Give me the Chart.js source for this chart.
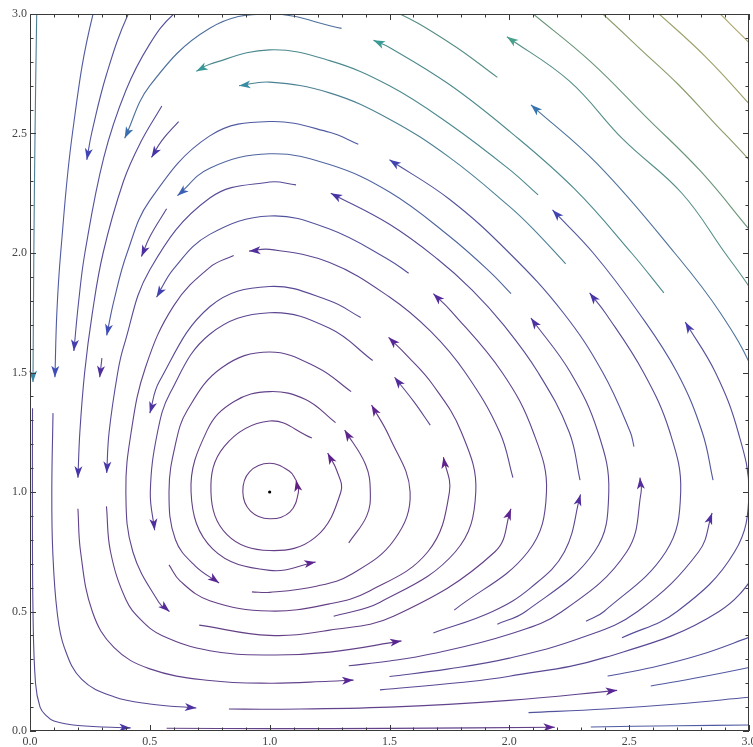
<!DOCTYPE html>
<html>
<head>
<meta charset="utf-8">
<script src="https://cdn.jsdelivr.net/npm/chart.js@4.4.1/dist/chart.umd.min.js"></script>
<style>
  html, body { margin: 0; padding: 0; background: #fff; }
</style>
</head>
<body>
<canvas id="chart" width="753" height="747"></canvas>
<script>
// streamlines, each one in flow direction (arrowhead at the last point)
const ring1 = [
  [[1.11,1.05],[1.085,1.085],[1,1.12],[0.916,1.084],[0.888,1],[0.92,0.92],[1,0.888],[1.084,0.916],[1.12,1],[1.11,1.05]]
];
const ring2 = [
  [[1.176,1.226],[1,1.297],[0.81,1.19],[0.755,1],[0.822,0.822],[1,0.755],[1.19,0.81],[1.297,1],[1.28,1.09],[1.242,1.163]]
];
const ring3 = [
  [[1.275,1.29],[1.15,1.387],[1,1.42],[0.85,1.378],[0.74,1.26],[0.672,1],[0.762,0.762],[1,0.672],[1.192,0.707]],
  [[1.33,0.787],[1.405,0.9],[1.42,1],[1.40,1.115],[1.313,1.259]]
];
const ring4 = [
  [[1.34,1.42],[1.2,1.52],[1,1.586],[0.8,1.52],[0.657,1.343],[0.607,1.2],[0.58,1],[0.607,0.8],[0.69,0.69],[0.789,0.619]],
  [[0.926,0.582],[1,0.58],[1.2,0.607],[1.343,0.657],[1.52,0.8],[1.586,1],[1.5,1.23],[1.425,1.364]]
];
const ring5 = [
  [[1.43,1.55],[1.25,1.685],[1,1.75],[0.75,1.66],[0.585,1.415],[0.532,1.25],[0.502,1],[0.52,0.84]],
  [[0.58,0.695],[0.627,0.627],[0.75,0.545],[1,0.502],[1.25,0.532],[1.415,0.585],[1.66,0.75],[1.75,1],[1.725,1.146]],
  [[1.67,1.28],[1.60,1.38],[1.521,1.48]]
];
const ring6 = [
  [[1.38,1.73],[1.25,1.80],[1,1.86],[0.75,1.775],[0.539,1.461],[0.50,1.33]],
  [[1.267,0.48],[1.461,0.539],[1.775,0.75],[1.86,1],[1.80,1.25],[1.68,1.45],[1.572,1.572],[1.496,1.647]]
];
const ring7 = [
  [[2.015,1.06],[1.96,1.25],[1.816,1.5],[1.672,1.672],[1.5,1.816],[1.25,1.96],[1,2.015],[0.914,2.008]],
  [[0.85,1.99],[0.75,1.94],[0.6,1.78],[0.481,1.519],[0.422,1.25],[0.40,1],[0.429,0.75],[0.538,0.538],[0.582,0.50]],
  [[0.706,0.443],[1,0.40],[1.25,0.422],[1.519,0.481],[1.94,0.75],[2.007,0.93]]
];
const ring8 = [
  [[1.58,1.915],[1.5,1.97],[1.25,2.10],[1,2.155],[0.75,2.078],[0.6,1.935],[0.528,1.815]],
  [[1.77,0.506],[2.078,0.75],[2.155,1],[2.10,1.25],[1.97,1.5],[1.757,1.757],[1.683,1.83]]
];
const ring9 = [
  [[1.11,2.285],[1,2.297],[0.75,2.23],[0.5,1.93],[0.391,1.609],[0.366,1.5],[0.33,1.25],[0.32,1.08]],
  [[0.319,0.94],[0.336,0.75],[0.40,0.55],[0.464,0.464],[0.55,0.40],[0.75,0.336],[1,0.318],[1.25,0.33],[1.55,0.377]],
  [[1.683,0.41],[1.93,0.5],[2.09,0.6],[2.23,0.75],[2.297,0.99]],
  [[2.295,1.05],[2.25,1.25],[2.12,1.5],[1.975,1.7],[1.845,1.845],[1.7,1.975],[1.5,2.12],[1.255,2.25]]
];
const ring10 = [
  [[2.007,1.83],[1.92,1.92],[1.75,2.07],[1.5,2.255],[1.25,2.37],[1,2.415],[0.75,2.355],[0.615,2.24]],
  [[0.57,2.185],[0.5,2.068],[0.465,1.985]],
  [[1.95,0.447],[2.068,0.5],[2.355,0.75],[2.415,1],[2.37,1.25],[2.255,1.5],[2.09,1.728]]
];
const ring11 = [
  [[2.52,1.19],[2.505,1.25],[2.39,1.5],[2.225,1.75],[2.0,2.0],[1.75,2.225],[1.5,2.39]],
  [[1.37,2.455],[1.25,2.505],[1,2.55],[0.75,2.49],[0.5,2.22],[0.405,2.0],[0.35,1.8],[0.32,1.655]],
  [[0.30,1.56],[0.291,1.48]],
  [[1.33,0.273],[1.5,0.293],[1.677,0.323],[2.0,0.405],[2.22,0.5],[2.49,0.75],[2.55,1],[2.545,1.06]]
];
const ring12 = [
  [[2.235,1.955],[2.1,2.1],[2.0,2.195],[1.75,2.40],[1.5,2.56],[1.25,2.67],[1,2.715],[0.872,2.70]],
  [[0.62,2.55],[0.55,2.47],[0.507,2.40]],
  [[2.32,0.459],[2.395,0.5],[2.653,0.75],[2.715,1],[2.67,1.25],[2.56,1.5],[2.40,1.75],[2.335,1.833]]
];
const ring13 = [
  [[0.2,0.93],[0.211,0.75],[0.26,0.5],[0.35,0.35],[0.5,0.26],[0.75,0.211],[1,0.2],[1.25,0.208],[1.35,0.213]],
  [[1.5,0.228],[1.741,0.259],[2,0.305],[2.3,0.39],[2.535,0.5],[2.79,0.75],[2.846,0.912]],
  [[2.85,1.05],[2.805,1.25],[2.70,1.5],[2.54,1.75],[2.35,2.0],[2.18,2.18]],
  [[2.12,2.243],[2.0,2.35],[1.75,2.54],[1.5,2.70],[1.25,2.805],[1,2.85],[0.75,2.79],[0.694,2.76]],
  [[0.55,2.615],[0.46,2.46],[0.39,2.3],[0.305,2],[0.259,1.741],[0.228,1.5],[0.208,1.25],[0.2,1.06]]
];
const ring14 = [
  [[1.30,2.94],[1,3.0],[0.75,2.94],[0.5,2.70],[0.395,2.48]],
  [[2.47,0.39],[2.70,0.5],[2.94,0.75],[3.0,1],[2.955,1.25],[2.86,1.5],[2.734,1.711]],
  [[2.645,1.833],[2.51,2.0],[2.27,2.27],[2.0,2.51],[1.75,2.705],[1.5,2.86],[1.433,2.89]]
];
const ring15 = [
  [[0.75,3.10],[0.6,3.0],[0.5,2.875],[0.4,2.68],[0.308,2.4],[0.229,2],[0.203,1.797],[0.183,1.59]],
  [[1.46,0.172],[1.797,0.203],[2,0.229],[2.4,0.308],[2.875,0.5],[3.10,0.75]],
  [[3.10,1.25],[3.02,1.5],[2.88,1.75],[2.69,2.0],[2.37,2.37],[2.09,2.62]],
  [[1.95,2.735],[1.75,2.88],[1.5,3.02],[1.25,3.10]]
];
const ring16 = [
  [[3.1,1.70],[3.0,1.86],[2.9,2.0],[2.72,2.25],[2.475,2.475],[2.25,2.72],[1.99,2.905]]
];
const outer17 = [
  [[0.5,3.15],[0.41,3.0],[0.32,2.75],[0.257,2.5],[0.237,2.39]]
];
const outer18 = [
  [[0.36,3.25],[0.263,3.0],[0.177,2.5],[0.128,2.0],[0.112,1.75],[0.104,1.48]],
  [[0.096,1.33],[0.091,1.0],[0.095,0.75],[0.113,0.5],[0.143,0.35],[0.216,0.216],[0.35,0.143],[0.5,0.113],[0.694,0.096]],
  [[0.83,0.092],[1,0.091],[1.5,0.10],[2,0.128],[2.45,0.17]],
  [[2.59,0.188],[2.8,0.226],[3.0,0.266],[3.1,0.29]]
];
const edge20 = [
  [[0.032,3.2],[0.028,3.0],[0.021,2.5],[0.016,2.0],[0.0125,1.46]],
  [[0.0105,1.35],[0.01,1.0],[0.0125,0.5],[0.023,0.2],[0.042,0.1],[0.066,0.066],[0.1,0.042],[0.2,0.023],[0.42,0.013]],
  [[0.57,0.0115],[1,0.01],[1.5,0.011],[2.19,0.0155]],
  [[2.34,0.017],[2.7,0.022],[3.0,0.025],[3.1,0.027]]
];
const bottomRight = [
  [[2.41,0.23],[2.6,0.267],[2.8,0.32],[3.0,0.392],[3.1,0.43]],
  [[2.08,0.077],[2.4,0.092],[2.7,0.113],[3.0,0.141],[3.1,0.15]]
];
const cornerLines = [
  [[3.1,1.98],[3.0,2.1],[2.8,2.34],[2.57,2.57],[2.34,2.8],[2.1,3.0],[1.98,3.1]],
  [[3.1,2.27],[3.0,2.39],[2.85,2.55],[2.705,2.705],[2.55,2.85],[2.39,3.0],[2.27,3.1]],
  [[3.1,2.51],[3.0,2.625],[2.82,2.82],[2.625,3.0],[2.51,3.1]],
  [[3.1,2.77],[3.0,2.88],[2.94,2.94],[2.88,3.0],[2.77,3.1]]
];
const fixedPoint = [[1, 1]];
const tickValues = [0, 0.5, 1, 1.5, 2, 2.5, 3];

const streamlines = [ring1, ring2, ring3, ring4, ring5, ring6, ring7, ring8, ring9, ring10,
  ring11, ring12, ring13, ring14, ring15, ring16, outer17, outer18, edge20, bottomRight, cornerLines].flat(1);

// each streamline takes one colour, from the speed of x' = x(1-y), y' = y(x-1) where it starts
const speedStops = [
  [0.0, [100, 30, 130]],
  [0.8, [88, 40, 150]],
  [1.5, [70, 55, 170]],
  [2.3, [60, 80, 185]],
  [2.9, [55, 130, 170]],
  [3.7, [55, 155, 150]],
  [5.0, [95, 170, 120]],
  [6.5, [170, 185, 90]],
  [8.5, [225, 205, 100]]
];
function speedRGB(x, y) {
  const s = Math.hypot(x * (1 - y), y * (x - 1));
  let i = 0;
  while (i < speedStops.length - 2 && s > speedStops[i + 1][0]) i++;
  const [s0, c0] = speedStops[i], [s1, c1] = speedStops[i + 1];
  const t = Math.max(0, Math.min(1, (s - s0) / (s1 - s0)));
  return c0.map((v, k) => Math.round(v + (c1[k] - v) * t));
}
const rgb = c => `rgb(${c[0]},${c[1]},${c[2]})`;
const muted = c => rgb(c.map((v, k) => Math.round(v * 0.62 + [110, 110, 125][k] * 0.38)));

const arrowheads = {
  id: 'arrowheads',
  afterDatasetsDraw(chart) {
    const { ctx, chartArea: a } = chart;
    ctx.save();
    chart.data.datasets.forEach((ds, i) => {
      if (!ds.headColor) return;
      const els = chart.getDatasetMeta(i).data;
      const tip = els[els.length - 1], prev = els[els.length - 2];
      if (tip.x < a.left || tip.x > a.right || tip.y < a.top || tip.y > a.bottom) return;
      const dx = tip.x - prev.x, dy = tip.y - prev.y;
      const len = Math.hypot(dx, dy) || 1;
      const ux = dx / len, uy = dy / len;
      const L = 11.5, W = 4, N = 8.5;
      ctx.fillStyle = ds.headColor;
      ctx.beginPath();
      ctx.moveTo(tip.x, tip.y);
      ctx.lineTo(tip.x - ux * L - uy * W, tip.y - uy * L + ux * W);
      ctx.lineTo(tip.x - ux * N, tip.y - uy * N);
      ctx.lineTo(tip.x - ux * L + uy * W, tip.y - uy * L - ux * W);
      ctx.closePath();
      ctx.fill();
    });
    ctx.restore();
  }
};

const frame = {
  id: 'frame',
  afterDraw(chart) {
    const { ctx, chartArea: a, scales: { x, y } } = chart;
    ctx.save();
    ctx.strokeStyle = '#3a3a3a';
    ctx.lineWidth = 1;
    ctx.strokeRect(a.left + 0.5, a.top + 0.5, a.right - a.left - 1, a.bottom - a.top - 1);
    ctx.beginPath();
    for (let k = 0; k <= 30; k++) {
      const v = k / 10, len = k % 5 === 0 ? 6 : 3.5;
      const px = Math.round(x.getPixelForValue(v)) + 0.5;
      const py = Math.round(y.getPixelForValue(v)) + 0.5;
      ctx.moveTo(px, a.bottom); ctx.lineTo(px, a.bottom - len);
      ctx.moveTo(px, a.top); ctx.lineTo(px, a.top + len);
      ctx.moveTo(a.left, py); ctx.lineTo(a.left + len, py);
      ctx.moveTo(a.right, py); ctx.lineTo(a.right - len, py);
    }
    ctx.stroke();
    ctx.restore();
  }
};

const datasets = streamlines.map(seg => {
  const c = speedRGB(seg[0][0], seg[0][1]);
  return {
    data: seg.map(([x, y]) => ({ x, y })),
    headColor: rgb(c),
    showLine: true,
    pointRadius: 0,
    borderWidth: 1.1,
    borderColor: muted(c),
    tension: 0.4,
    clip: 0
  };
});
datasets.push({
  data: fixedPoint.map(([x, y]) => ({ x, y })),
  pointRadius: 1.6,
  pointBackgroundColor: '#000',
  pointBorderWidth: 0
});

const tickFont = { family: 'Liberation Serif', size: 12 };

new Chart(document.getElementById('chart'), {
  type: 'scatter',
  data: { datasets },
  options: {
    responsive: false,
    animation: false,
    events: [],
    layout: { padding: { top: 14, right: 1, left: 0, bottom: 0 } },
    plugins: { legend: { display: false }, tooltip: { enabled: false } },
    scales: {
      x: {
        type: 'linear', min: 0, max: 3,
        grid: { display: false, drawTicks: false },
        border: { display: false },
        afterBuildTicks: s => { s.ticks = tickValues.map(v => ({ value: v })); },
        ticks: { autoSkip: false, maxRotation: 0, padding: 4, color: '#444', font: tickFont,
                 callback: v => Number(v).toFixed(1) },
        afterFit: s => { s.height = 16; s.paddingLeft = 0; s.paddingRight = 0; }
      },
      y: {
        type: 'linear', min: 0, max: 3,
        grid: { display: false, drawTicks: false },
        border: { display: false },
        afterBuildTicks: s => { s.ticks = tickValues.map(v => ({ value: v })); },
        ticks: { autoSkip: false, padding: 3, color: '#444', font: tickFont,
                 callback: v => Number(v).toFixed(1) },
        afterFit: s => { s.width = 30; s.paddingTop = 0; s.paddingBottom = 0; }
      }
    }
  },
  plugins: [arrowheads, frame]
});
</script>
</body>
</html>
